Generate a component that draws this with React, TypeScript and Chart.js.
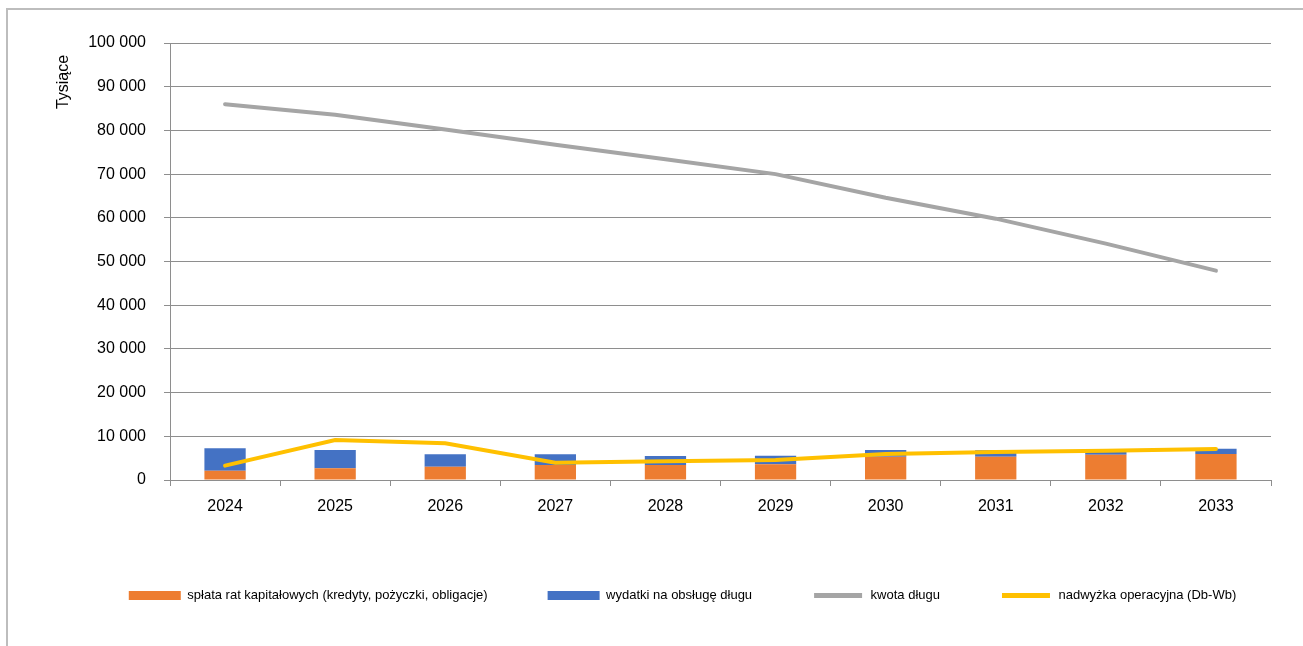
import React, { useEffect, useRef } from "react";
import { Chart, registerables } from "chart.js";

Chart.register(...registerables);

const years = ["2024", "2025", "2026", "2027", "2028", "2029", "2030", "2031", "2032", "2033"];
const splataRat = [2130, 2680, 3050, 3430, 3430, 3590, 5340, 5340, 5780, 5950];
const wydatkiObsluga = [5130, 4190, 2830, 2450, 2060, 1980, 1530, 1450, 600, 1220];
const kwotaDlugu = [86000, 83600, 80200, 76700, 73400, 70000, 64600, 59800, 54100, 47900];
const nadwyzka = [3280, 9160, 8400, 3970, 4270, 4580, 5950, 6410, 6710, 7090];

const labels = [
  "spłata rat kapitałowych (kredyty, pożyczki, obligacje)",
  "wydatki na obsługę długu",
  "kwota długu",
  "nadwyżka operacyjna (Db-Wb)",
];
const axisTitle = "Tysiące";

const FONT = "'Liberation Sans', Arial, sans-serif";
const GRID = "#8e8e8e";

const yTitlePlugin = {
  id: "yTitle",
  afterDraw(chart: any) {
    const ctx = chart.ctx;
    ctx.save();
    ctx.translate(64, 82);
    ctx.rotate(-Math.PI / 2);
    ctx.font = `16px ${FONT}`;
    ctx.fillStyle = "#000";
    ctx.textAlign = "center";
    ctx.textBaseline = "middle";
    ctx.fillText(axisTitle, 0, 0);
    ctx.restore();
  },
};

const legendShiftPlugin = {
  id: "legendShift",
  afterLayout(chart: any) {
    const l = chart.legend;
    if (l) {
      l.left += 47;
      l.right += 47;
    }
  },
};

export default function App() {
  const ref = useRef<HTMLCanvasElement>(null);

  useEffect(() => {
    if (!ref.current) return;
    const chart = new Chart(ref.current, {
      type: "bar",
      data: {
        labels: years,
        datasets: [
          {
            type: "bar",
            label: labels[0],
            data: splataRat,
            backgroundColor: "#ED7D31",
            stack: "bars",
            order: 2,
            barPercentage: 0.375,
            categoryPercentage: 1,
          },
          {
            type: "bar",
            label: labels[1],
            data: wydatkiObsluga,
            backgroundColor: "#4472C4",
            stack: "bars",
            order: 2,
            barPercentage: 0.375,
            categoryPercentage: 1,
          },
          {
            type: "line",
            label: labels[2],
            data: kwotaDlugu,
            borderColor: "#A5A5A5",
            backgroundColor: "#A5A5A5",
            borderWidth: 4,
            pointRadius: 0,
            borderCapStyle: "round",
            tension: 0,
            stack: "l1",
            order: 1,
          },
          {
            type: "line",
            label: labels[3],
            data: nadwyzka,
            borderColor: "#FFC000",
            backgroundColor: "#FFC000",
            borderWidth: 4,
            pointRadius: 0,
            borderCapStyle: "round",
            tension: 0,
            stack: "l2",
            order: 0,
          },
        ] as any,
      },
      options: {
        animation: false,
        responsive: false,
        maintainAspectRatio: false,
        layout: { padding: { top: 43, right: 32, bottom: 34, left: 0 } },
        plugins: {
          tooltip: { enabled: false },
          legend: {
            position: "bottom",
            labels: {
              boxWidth: 52,
              boxHeight: 9,
              padding: 60,
              color: "#000",
              font: { size: 13, family: FONT },
              sort: (a: any, b: any) => a.datasetIndex - b.datasetIndex,
              generateLabels(c: any) {
                const items = (Chart.defaults.plugins.legend.labels as any).generateLabels(c);
                return items.map((it: any) => {
                  const ds: any = c.data.datasets[it.datasetIndex];
                  if (ds.type === "line") {
                    return { ...it, fillStyle: ds.borderColor, strokeStyle: "#ffffff", lineWidth: 4 };
                  }
                  return { ...it, fillStyle: ds.backgroundColor, strokeStyle: ds.backgroundColor, lineWidth: 0 };
                });
              },
            },
          },
        },
        scales: {
          x: {
            stacked: true,
            afterFit(scale: any) {
              scale.height = 49;
            },
            grid: {
              offset: true,
              drawOnChartArea: false,
              drawTicks: true,
              tickLength: 6,
              color: GRID,
            },
            border: { color: GRID, width: 1 },
            ticks: {
              color: "#000",
              font: { size: 16, family: FONT },
              padding: 11,
              maxRotation: 0,
            },
          },
          y: {
            stacked: true,
            min: 0,
            max: 100000,
            afterFit(scale: any) {
              scale.width = 170;
            },
            grid: { color: GRID, tickLength: 6, drawTicks: true },
            border: { color: GRID, width: 1 },
            ticks: {
              stepSize: 10000,
              color: "#000",
              font: { size: 16, family: FONT },
              padding: 18,
              callback: (v: any) => String(v).replace(/\B(?=(\d{3})+(?!\d))/g, " "),
            },
          },
        },
      },
      plugins: [yTitlePlugin, legendShiftPlugin],
    });
    return () => chart.destroy();
  }, []);

  return (
    <div style={{ position: "fixed", left: 0, top: 0, width: 1303, height: 646, background: "#fff" }}>
      <div
        style={{
          position: "absolute",
          left: 6,
          top: 8,
          width: 1310,
          height: 650,
          border: "2px solid #bdbdbd",
          boxSizing: "border-box",
        }}
      />
      <canvas
        ref={ref}
        width={1303}
        height={646}
        style={{ position: "absolute", left: 0, top: 0, width: 1303, height: 646 }}
      />
    </div>
  );
}
